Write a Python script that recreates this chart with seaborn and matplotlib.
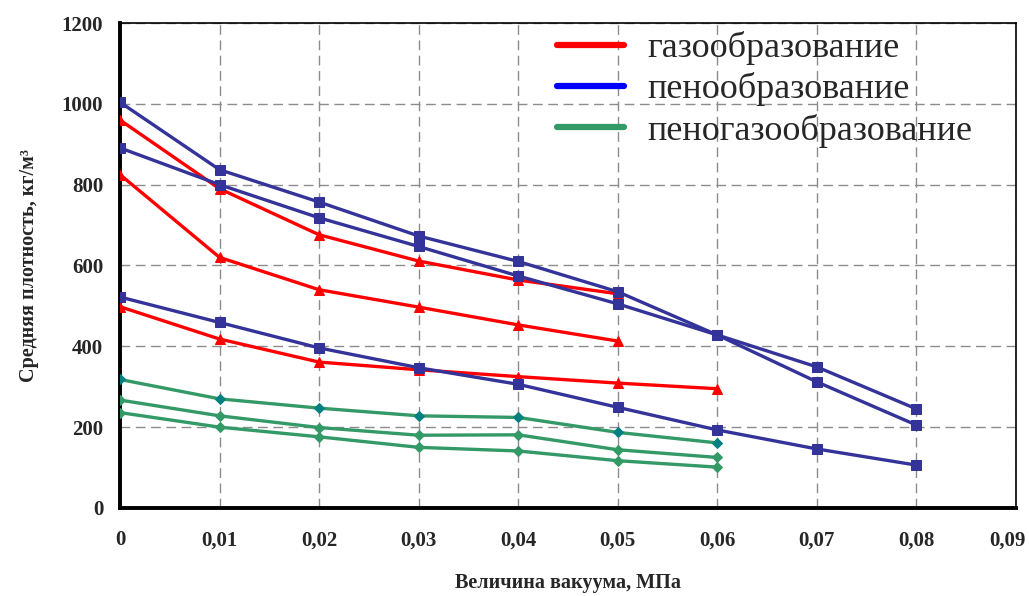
import matplotlib
matplotlib.use("Agg")
import matplotlib.pyplot as plt
from matplotlib.lines import Line2D
from matplotlib.transforms import ScaledTranslation
import seaborn as sns
import pandas as pd

# ---- data ----
x_ticks = [0, 0.01, 0.02, 0.03, 0.04, 0.05, 0.06, 0.07, 0.08, 0.09]
x_tick_labels = ["0", "0,01", "0,02", "0,03", "0,04", "0,05", "0,06", "0,07", "0,08", "0,09"]
y_ticks = [0, 200, 400, 600, 800, 1000, 1200]

legend_labels = ["газообразование", "пенообразование", "пеногазообразование"]

gas_x = [0, 0.01, 0.02, 0.03, 0.04, 0.05]
gas_1 = [960, 790, 676, 611, 564, 530]
gas_2 = [825, 620, 540, 497, 453, 413]
gas3_x = [0, 0.01, 0.02, 0.03, 0.04, 0.05, 0.06]
gas_3 = [498, 418, 361, 342, 325, 309, 295]

foam_x = [0, 0.01, 0.02, 0.03, 0.04, 0.05, 0.06, 0.07, 0.08]
foam_1 = [1004, 837, 757, 673, 610, 535, 428, 349, 245]
foam_2 = [891, 800, 718, 647, 574, 505, 428, 312, 205]
foam_3 = [522, 459, 396, 347, 306, 249, 193, 146, 106]

fg_x = [0, 0.01, 0.02, 0.03, 0.04, 0.05, 0.06]
fg_1 = [318, 270, 247, 228, 224, 187, 161]
fg_2 = [267, 228, 199, 180, 181, 144, 125]
fg_3 = [236, 200, 176, 150, 141, 117, 101]

# ---- style ----
sns.set_style("white")
plt.rcParams['font.family'] = ['Liberation Serif', 'DejaVu Serif']

fig = plt.figure(figsize=(10.29, 5.96), dpi=100)
ax = fig.add_axes([0.1166, 0.1477, 0.8708, 0.8137])

RED = "#FF0000"
NAVY = "#333399"
GREEN = "#339966"
TEAL = "#008080"

series = [
    (gas_x, gas_1, RED, "^", RED),
    (gas_x, gas_2, RED, "^", RED),
    (gas3_x, gas_3, RED, "^", RED),
    (foam_x, foam_1, NAVY, "s", NAVY),
    (foam_x, foam_2, NAVY, "s", NAVY),
    (foam_x, foam_3, NAVY, "s", NAVY),
    (fg_x, fg_1, GREEN, "D", TEAL),
    (fg_x, fg_2, GREEN, "D", GREEN),
    (fg_x, fg_3, GREEN, "D", GREEN),
]
for xs, ys, col, mk, mcol in series:
    df = pd.DataFrame({"x": xs, "y": ys})
    ms = 5.5 if mk == "D" else 7.5
    sns.lineplot(data=df, x="x", y="y", ax=ax, color=col, linewidth=2.4,
                 marker=mk, markersize=ms, markerfacecolor=mcol,
                 markeredgecolor=mcol, legend=False, zorder=3)

ax.set_xlim(0, 0.09)
ax.set_ylim(0, 1200)
ax.set_xticks(x_ticks)
ax.set_xticklabels(x_tick_labels)
ax.set_yticks(y_ticks)
ax.set_yticklabels([str(v) for v in y_ticks])

ax.grid(True, color="#8c8c8c", linestyle=(0, (7, 4)), linewidth=1.0, zorder=0)
ax.set_axisbelow(True)

for s in ["left", "bottom"]:
    ax.spines[s].set_linewidth(2.8)
    ax.spines[s].set_color("black")
for s in ["top", "right"]:
    ax.spines[s].set_linewidth(1.2)
    ax.spines[s].set_color("black")
    ax.spines[s].set_visible(True)

ax.tick_params(axis="both", direction="out", length=6, width=2, color="black",
               labelsize=15)
ax.tick_params(axis="x", pad=10)
ax.tick_params(axis="y", pad=6)
for lab in ax.get_xticklabels() + ax.get_yticklabels():
    lab.set_fontweight("bold")
last = ax.get_xticklabels()[-1]
last.set_transform(last.get_transform() + ScaledTranslation(-0.09, 0, fig.dpi_scale_trans))

ax.set_xlabel("Величина вакуума, МПа", fontsize=14.5, fontweight="bold")
ax.xaxis.set_label_coords(0.5, -0.135)
ax.set_ylabel("Средняя плотность, кг/м³", fontsize=14.5, fontweight="bold")
ax.yaxis.set_label_coords(-0.09, 0.5)

handles = [Line2D([0], [0], color=c, linewidth=4.5) for c in ["#FF0000", "#0000FF", GREEN]]
leg = ax.legend(handles, legend_labels, loc="upper left", bbox_to_anchor=(0.488, 0.983),
                frameon=False, fontsize=26, handlelength=1.85, handletextpad=0.65,
                labelspacing=0.2, borderaxespad=0.0, borderpad=0.0)

fig.savefig("out.png", dpi=100)
